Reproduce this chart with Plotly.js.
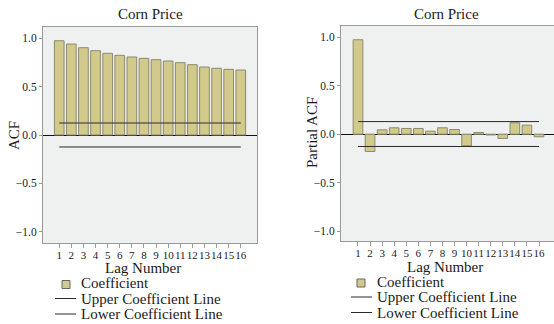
<!DOCTYPE html>
<html>
<head>
<meta charset="utf-8">
<script src="https://cdn.plot.ly/plotly-3.0.1.min.js"></script>
<style>html,body{margin:0;padding:0;background:#fff;}#chart{width:554px;height:324px;}</style>
</head>
<body>
<div id="chart"></div>
<script>
// Data
const lags = [1,2,3,4,5,6,7,8,9,10,11,12,13,14,15,16];
const acfValues = [0.975,0.941,0.903,0.872,0.845,0.824,0.807,0.793,0.779,0.765,0.748,0.727,0.703,0.690,0.679,0.672];
const pacfValues = [0.975,-0.179,0.045,0.066,0.059,0.059,0.031,0.066,0.048,-0.120,0.017,-0.008,-0.044,0.118,0.093,-0.027];
const acfUpper = 0.124, acfLower = -0.124;
const pacfUpper = 0.13, pacfLower = -0.127;
const chartTitle = "Corn Price";
const yTickVals = [-1, -0.5, 0, 0.5, 1];
const yTickText = ["\u22121.0", "\u22120.5", "0.0", "0.5", "1.0"];
const legendLabels = ["Coefficient", "Upper Coefficient Line", "Lower Coefficient Line"];

const FONT = "'Liberation Serif', 'Times New Roman', serif";
const barFill = "#d2ca8b";
const barEdge = "#8c8a70";
const lineCol = "#2a2a2a";

function barTrace(vals, xa, ya) {
  return {type: "bar", x: lags, y: vals, xaxis: xa, yaxis: ya,
    marker: {color: barFill, line: {color: barEdge, width: 1}},
    showlegend: false, hoverinfo: "x+y"};
}
function limitTrace(v, xa, ya) {
  return {type: "scatter", mode: "lines", x: [lags[0], lags[lags.length-1]], y: [v, v],
    xaxis: xa, yaxis: ya, line: {color: lineCol, width: 1}, showlegend: false};
}

const traces = [
  barTrace(acfValues, "x", "y"),
  limitTrace(acfUpper, "x", "y"),
  limitTrace(acfLower, "x", "y"),
  barTrace(pacfValues, "x2", "y2"),
  limitTrace(pacfUpper, "x2", "y2"),
  limitTrace(pacfLower, "x2", "y2")
];

const W = 554, H = 324;
const px = v => v / W;
const py = v => 1 - v / H;

function xAxis(domain, range) {
  return {domain: domain, range: range, tickvals: lags, ticktext: lags.map(String),
    tickangle: 0, automargin: false, ticklabelstandoff: -2,
    ticks: "outside", ticklen: 4, tickcolor: "#999", tickwidth: 1,
    showgrid: false, zeroline: false, showline: true, mirror: true,
    linecolor: "#999", linewidth: 1, fixedrange: true,
    tickfont: {family: FONT, size: 11, color: "#222"}};
}
function yAxis(domain, range, anchor, mirror) {
  return {domain: domain, range: range, anchor: anchor, tickvals: yTickVals, ticktext: yTickText,
    ticks: "outside", ticklen: 3, tickcolor: "#999", tickwidth: 1, automargin: false,
    showgrid: false, zeroline: true, zerolinecolor: "#111", zerolinewidth: 1,
    showline: true, mirror: mirror, linecolor: "#999", linewidth: 1, fixedrange: true,
    tickfont: {family: FONT, size: 11.5, color: "#222"}};
}

const ann = [];
const shapes = [];
function txt(x, y, text, size, opts) {
  ann.push(Object.assign({xref: "paper", yref: "paper", x: px(x), y: py(y), text: text,
    showarrow: false, borderpad: 0, font: {family: FONT, size: size, color: "#1a1a1a"},
    xanchor: "center", yanchor: "middle"}, opts || {}));
}
// titles
txt(150, 14, chartTitle, 15);
txt(446, 14, chartTitle, 15);
// axis titles
txt(14, 135, "ACF", 15, {textangle: -90});
txt(312, 133, "Partial ACF", 15, {textangle: -90});
txt(143, 268, "Lag Number", 15);
txt(445, 267, "Lag Number", 15);

function legend(sqx, sqy, lineX0, lineX1, textX, ys) {
  shapes.push({type: "rect", xref: "paper", yref: "paper",
    x0: px(sqx - 4), x1: px(sqx + 4), y0: py(sqy + 4), y1: py(sqy - 4),
    fillcolor: barFill, line: {color: "#666", width: 1}});
  shapes.push({type: "line", xref: "paper", yref: "paper", x0: px(lineX0), x1: px(lineX1),
    y0: py(ys[1]), y1: py(ys[1]), line: {color: lineCol, width: 1}});
  shapes.push({type: "line", xref: "paper", yref: "paper", x0: px(lineX0), x1: px(lineX1),
    y0: py(ys[2]), y1: py(ys[2]), line: {color: lineCol, width: 1}});
  legendLabels.forEach((t, i) => txt(textX, ys[i], t, 15, {xanchor: "left"}));
}
legend(66, 284.5, 55, 76, 80, [283, 298.5, 314]);
legend(361, 283, 351, 372, 376, [281.5, 297, 312.5]);

const layout = {
  width: W, height: H, margin: {l: 0, r: 0, t: 0, b: 0},
  paper_bgcolor: "#ffffff", plot_bgcolor: "#eff0f0",
  showlegend: false, bargap: 0.2,
  font: {family: FONT, color: "#222"},
  xaxis: xAxis([px(43), px(257)], [-0.34, 17.34]),
  yaxis: yAxis([1 - 243/H, 1 - 27/H], [-1.117, 1.117], "x", true),
  xaxis2: Object.assign(xAxis([px(341), 1], [-0.408, 17.243]), {anchor: "y2"}),
  yaxis2: yAxis([1 - 241/H, 1 - 26/H], [-1.103, 1.117], "x2", false),
  annotations: ann, shapes: shapes
};

Plotly.newPlot("chart", traces, layout, {displayModeBar: false, staticPlot: true});
</script>
</body>
</html>
